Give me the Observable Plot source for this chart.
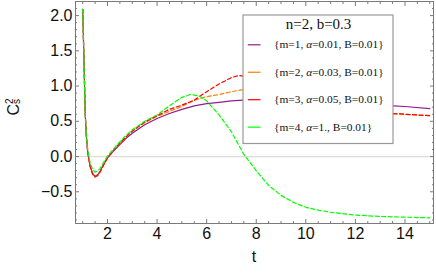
<!DOCTYPE html>
<html><head><meta charset="utf-8">
<script src="https://cdn.jsdelivr.net/npm/d3@7"></script>
<script src="https://cdn.jsdelivr.net/npm/@observablehq/plot@0.6"></script>
<style>body{margin:0;background:#fff}#chart{width:436px;height:273px}</style>
</head><body><div id="chart"></div>
<script>
// ---- data (null = hidden behind the legend box) ----
const legendTitle = "n=2, b=0.3";
const seriesKeys = ["m1", "m2", "m3", "m4"];
const seriesM = ["1", "2", "3", "4"];
const seriesAlpha = ["0.01", "0.03", "0.05", "1."];
const seriesB = ["0.01", "0.01", "0.01", "0.01"];

const purpleT = [1.0,1.05,1.1,1.15,1.2,1.25,1.3,1.4,1.5,1.6,1.7,1.8,1.9,2.0,2.25,2.5,2.75,3.0,3.5,4.0,4.5,5.0,5.5,6.0,6.5,7.0,7.47,10.5,13.52,14.0,15.0];
const purpleY = [2.09,1.40,0.62,0.28,0.08,-0.04,-0.13,-0.24,-0.28,-0.26,-0.21,-0.14,-0.08,-0.02,0.08,0.17,0.26,0.33,0.45,0.54,0.61,0.67,0.72,0.75,0.77,0.79,0.80,null,0.72,0.71,0.68];

const orangeT = [1.0,1.05,1.1,1.15,1.2,1.25,1.3,1.4,1.5,1.6,1.7,1.8,1.9,2.0,2.25,2.5,2.75,3.0,3.5,4.0,4.5,5.0,5.5,6.0,6.5,7.0,7.47,10.5,13.52,14.0,15.0];
const orangeY = [2.09,1.40,0.62,0.28,0.08,-0.04,-0.14,-0.25,-0.29,-0.27,-0.22,-0.15,-0.08,-0.02,0.09,0.19,0.28,0.36,0.48,0.57,0.64,0.71,0.80,0.85,0.88,0.92,0.95,null,0.61,0.60,0.58];

const redT = [1.0,1.05,1.1,1.15,1.2,1.25,1.3,1.4,1.5,1.6,1.7,1.8,1.9,2.0,2.25,2.5,2.75,3.0,3.5,4.0,4.5,5.0,5.5,6.0,6.5,7.0,7.3,7.47,10.5,13.52,14.0,15.0];
const redY = [2.09,1.40,0.62,0.28,0.08,-0.04,-0.14,-0.25,-0.29,-0.27,-0.22,-0.15,-0.08,-0.02,0.09,0.19,0.28,0.36,0.49,0.58,0.67,0.73,0.80,0.92,1.03,1.12,1.15,1.14,null,0.61,0.60,0.58];

const greenT = [1.0,1.05,1.1,1.15,1.2,1.25,1.3,1.4,1.5,1.6,1.7,1.8,1.9,2.0,2.25,2.5,2.75,3.0,3.5,4.0,4.5,5.0,5.35,5.7,6.0,6.5,7.0,7.5,8.0,8.5,9.0,9.5,10.0,10.5,11.0,12.0,13.0,14.0,15.0];
const greenY = [2.09,1.40,0.62,0.29,0.10,0.00,-0.09,-0.18,-0.22,-0.21,-0.17,-0.11,-0.05,0.01,0.11,0.21,0.30,0.38,0.50,0.59,0.72,0.84,0.88,0.86,0.79,0.59,0.35,0.03,-0.20,-0.41,-0.55,-0.65,-0.72,-0.76,-0.79,-0.83,-0.85,-0.86,-0.87];

const xMajor = [2,4,6,8,10,12,14];
const xMinor = [1,1.5,2.5,3,3.5,4.5,5,5.5,6.5,7,7.5,8.5,9,9.5,10.5,11,11.5,12.5,13,13.5,14.5,15];
const yMajor = [-0.5,0,0.5,1,1.5,2];
const yMinor = [-0.9,-0.8,-0.7,-0.6,-0.4,-0.3,-0.2,-0.1,0.1,0.2,0.3,0.4,0.6,0.7,0.8,0.9,1.1,1.2,1.3,1.4,1.6,1.7,1.8,1.9,2.1,2.2];

// ---- styling ----
const colors = ["#8e1e8e", "#ff8000", "#ff0000", "#00ff00"];
const dashes = [null, "4,2.5", "4,2.5", "4,2.5"];
const seriesT = [purpleT, orangeT, redT, greenT];
const seriesY = [purpleY, orangeY, redY, greenY];

const tables = seriesT.map((ts, k) => ts.map((t, i) => ({t, v: seriesY[k][i], key: seriesKeys[k]})));

const W = 436, H = 273, ML = 75, MR = 3, MT = 1, MB = 50;
const frameColor = "#7a7a7a";
const tickAxes = (anchor, vals, size) => {
  const isX = anchor === "bottom" || anchor === "top";
  const shift = (anchor === "bottom" || anchor === "right") ? -size : size;
  const opts = {anchor, tickSize: size, fill: "none", stroke: frameColor, label: null};
  if (isX) opts.dy = shift; else opts.dx = shift;
  return isX ? Plot.axisX(vals, opts) : Plot.axisY(vals, opts);
};

// legend box in pixel coordinates (converted to frame insets)
const box = {x1: 242.5, x2: 392.5, y1: 14.5, y2: 143};
const inset = (x1, x2, y1, y2) => ({insetLeft: x1 - ML, insetRight: (W - MR) - x2, insetTop: y1 - MT, insetBottom: (H - MB) - y2});
const rowY = k => 44.3 + k * 27.45;
const serif = "'Liberation Serif', 'Times New Roman', serif";

const legendMarks = [
  Plot.frame({fill: "white", stroke: "#999", strokeWidth: 1.2, ...inset(box.x1, box.x2, box.y1, box.y2)}),
  Plot.text([legendTitle], {text: d => d, frameAnchor: "top-left", dx: 318 - ML, dy: 23.3 - MT, lineAnchor: "middle",
    textAnchor: "middle", fontSize: 15, fontFamily: serif, fill: "#111"}),
  ...seriesKeys.map((key, k) => Plot.frame({fill: colors[k], stroke: null, ...inset(247.3, 260, rowY(k) - 0.6, rowY(k) + 0.6)})),
  ...seriesKeys.map((key, k) => Plot.text([k], {text: i => `{m=${seriesM[i]}, α=${seriesAlpha[i]}, B=${seriesB[i]}}`,
    frameAnchor: "top-left", dx: 273.5 - ML, dy: rowY(k) - MT, lineAnchor: "middle", textAnchor: "start",
    fontSize: 11.4, fontFamily: serif, fill: "#111", className: "legend-entry"}))
];

const plot = Plot.plot({
  width: W, height: H,
  marginLeft: ML, marginRight: MR, marginTop: MT, marginBottom: MB,
  style: {fontFamily: "'Liberation Sans', Arial, sans-serif", background: "white"},
  x: {domain: [0.71, 15.15]},
  y: {domain: [-0.95, 2.2]},
  marks: [
    Plot.ruleY([0], {stroke: "#dcdcdc", strokeWidth: 1.3}),
    ...tables.map((tb, k) => Plot.line(tb, {x: "t", y: "v", stroke: colors[k], strokeWidth: 1.2, strokeDasharray: dashes[k]})),
    ...legendMarks,
    Plot.frame({stroke: frameColor}),
    tickAxes("bottom", xMajor, 4), tickAxes("bottom", xMinor, 2),
    tickAxes("top", xMajor, 4), tickAxes("top", xMinor, 2),
    tickAxes("left", yMajor, 4), tickAxes("left", yMinor, 2),
    tickAxes("right", yMajor, 4), tickAxes("right", yMinor, 2),
    Plot.axisX(xMajor, {anchor: "bottom", tickSize: 0, tickPadding: 4, fontSize: 16, fill: "#111", label: null}),
    Plot.axisY(yMajor, {anchor: "left", tickSize: 0, tickPadding: 3, fontSize: 16, fill: "#111", label: null, tickFormat: d3.format(".1f")})
  ]
});
const chart = document.getElementById("chart");
chart.appendChild(plot);

const svg = d3.select(plot);

// italic alpha in legend entries
svg.selectAll(".legend-entry text").each(function () {
  const el = d3.select(this);
  const s = el.text();
  const i = s.indexOf("α");
  if (i < 0) return;
  el.text(null);
  el.append("tspan").text(s.slice(0, i));
  el.append("tspan").style("font-style", "italic").text("α");
  el.append("tspan").text(s.slice(i + 1));
});

const xs = plot.scale("x");
// axis labels
svg.append("text").attr("x", (xs.range[0] + xs.range[1]) / 2).attr("y", 262)
  .style("text-anchor", "middle").style("fill", "#111")
  .style("font", "16px 'Liberation Sans', Arial, sans-serif").text("t");
const yl = svg.append("text").attr("transform", "translate(18.5,115.5) rotate(-90)")
  .style("text-anchor", "start").style("fill", "#111").style("font", "16px 'Liberation Sans', Arial, sans-serif");
yl.append("tspan").text("C");
yl.append("tspan").attr("dy", -5.5).style("font-size", "10px").text("2");
yl.append("tspan").attr("dx", -5.6).attr("dy", 6.5).style("font-size", "10px").text("s");
</script>
</body></html>
